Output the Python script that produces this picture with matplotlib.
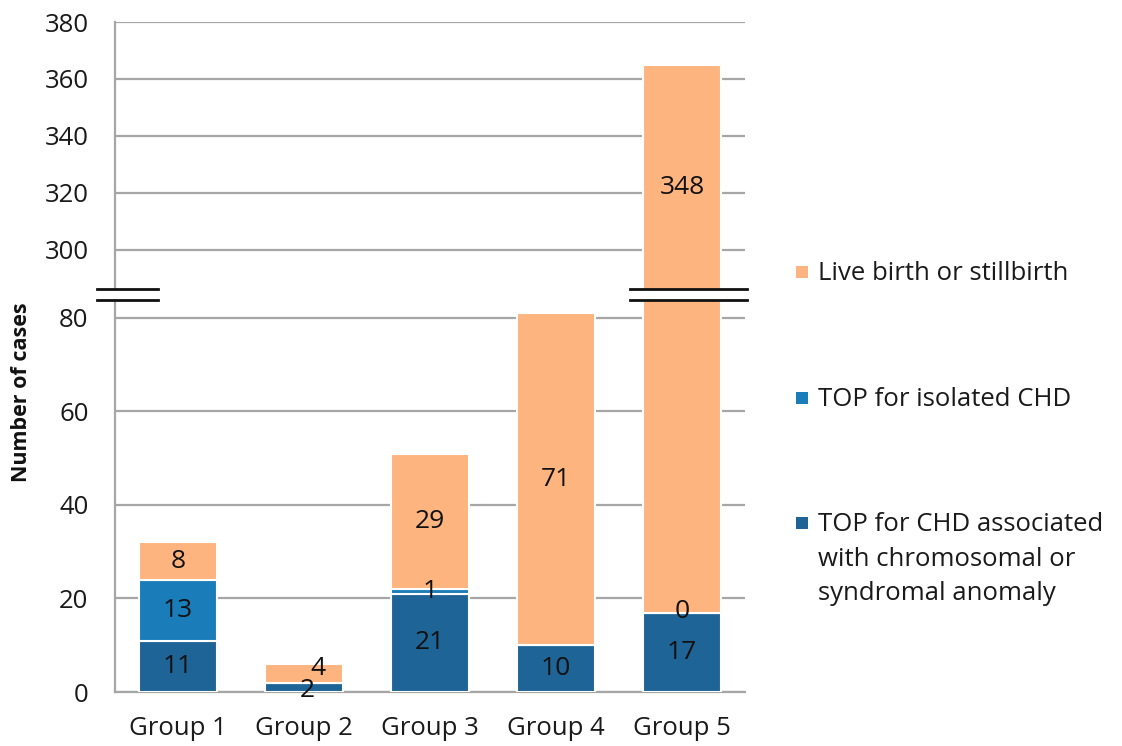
import matplotlib
matplotlib.use("Agg")
import matplotlib.pyplot as plt
from matplotlib.patches import Rectangle
from matplotlib.lines import Line2D
import numpy as np

plt.rcParams['font.family'] = ['Open Sans', 'DejaVu Sans']

groups = ["Group 1", "Group 2", "Group 3", "Group 4", "Group 5"]
top_chromosomal = [11, 2, 21, 10, 17]
top_isolated = [13, 0, 1, 0, 0]
live_birth = [8, 4, 29, 71, 348]
series_names = ["Live birth or stillbirth", "TOP for isolated CHD",
                "TOP for CHD associated\nwith chromosomal or\nsyndromal anomaly"]
colors = {"chrom": "#1F6496", "iso": "#1A7DBA", "live": "#FDB47F"}

lower_ticks = [0, 20, 40, 60, 80]
upper_ticks = [300, 320, 340, 360, 380]

W, H = 1122, 746
fig = plt.figure(figsize=(W / 100, H / 100), dpi=100)

left = 115 / W
width = 630 / W
y0 = 1 - 692 / H
ybreak = 1 - 294 / H
ytop = 1 - 22 / H

ax_lo = fig.add_axes([left, y0, width, ybreak - y0])
ax_hi = fig.add_axes([left, ybreak, width, ytop - ybreak])

FS = 18.5
x = np.arange(len(groups))
bw = 0.62
grid_c = "#A6A6A6"
for ax in (ax_lo, ax_hi):
    ax.bar(x, top_chromosomal, bw, color=colors["chrom"], edgecolor="white", linewidth=1.5, zorder=3)
    ax.bar(x, top_isolated, bw, bottom=top_chromosomal, color=colors["iso"], edgecolor="white", linewidth=1.5, zorder=3)
    bottoms = [a + b for a, b in zip(top_chromosomal, top_isolated)]
    ax.bar(x, live_birth, bw, bottom=bottoms, color=colors["live"], edgecolor="white", linewidth=1.5, zorder=3)
    ax.set_xlim(-0.5, 4.5)
    ax.yaxis.grid(True, color=grid_c, linewidth=1.6, zorder=0)
    ax.set_axisbelow(True)
    for s in ("top", "right"):
        ax.spines[s].set_visible(False)
    ax.spines["left"].set_color(grid_c)
    ax.spines["left"].set_linewidth(1.6)
    ax.tick_params(axis="y", length=0, pad=19, labelsize=FS, labelcolor="#1a1a1a")

ax_lo.set_ylim(0, 85.13)
ax_lo.set_yticks(lower_ticks)
ax_lo.spines["bottom"].set_color(grid_c)
ax_lo.spines["bottom"].set_linewidth(1.6)
ax_lo.set_xticks(x)
ax_lo.set_xticklabels(groups)
ax_lo.tick_params(axis="x", length=0, pad=17, labelsize=FS, labelcolor="#1a1a1a")

ax_hi.set_ylim(284.56, 380)
ax_hi.set_yticks(upper_ticks)
ax_hi.spines["bottom"].set_visible(False)
ax_hi.set_xticks([])

# data labels
lbl = dict(ha="center", va="center", fontsize=19, color="#111111", zorder=5)
for i in range(len(groups)):
    c, iso, lv = top_chromosomal[i], top_isolated[i], live_birth[i]
    if c > 3:
        ax_lo.text(i, c / 2, str(c), **lbl)
    else:
        ax_lo.text(i + 0.03, 0.3, str(c), **lbl)
    if iso > 0 or i == 4:
        ax_lo.text(i, c + iso / 2 + (0 if iso else 0.3), str(iso), **lbl)
    if lv < 80:
        if lv < 6:
            ax_lo.text(i + 0.11, c + iso + lv / 2 + 1.0, str(lv), **lbl)
        else:
            ax_lo.text(i, c + iso + lv / 2, str(lv), **lbl)
    else:
        ax_hi.text(i, 322, str(lv), **lbl)

# break marks
def brk(x0, x1):
    fx0, fx1 = x0 / W, x1 / W
    ya, yb = 1 - 289 / H, 1 - 300 / H
    fig.add_artist(Rectangle((fx0, yb), fx1 - fx0, ya - yb, transform=fig.transFigure,
                             facecolor="white", edgecolor="none", zorder=10))
    for yy in (ya, yb):
        fig.add_artist(Line2D([fx0, fx1], [yy, yy], transform=fig.transFigure,
                              color="#111111", linewidth=2, zorder=11))

brk(97, 158)
brk(630, 747)

fig.text(22 / W, 1 - 392 / H, "Number of cases", rotation=90, ha="center", va="center",
         fontsize=15.5, fontweight="bold", color="#111111")

# legend
leg_items = [(series_names[0], colors["live"], 272),
             (series_names[1], colors["iso"], 398),
             (series_names[2], colors["chrom"], 523)]
for name, col, ypx in leg_items:
    fig.add_artist(Rectangle((796 / W, 1 - (ypx + 6) / H), 12 / W, 12 / H,
                             transform=fig.transFigure, facecolor=col, edgecolor="none"))
    fig.text(818 / W, 1 - (ypx - 11) / H, name, ha="left", va="top", fontsize=FS,
             color="#1a1a1a", linespacing=1.5)

fig.savefig("out.png", dpi=100)
